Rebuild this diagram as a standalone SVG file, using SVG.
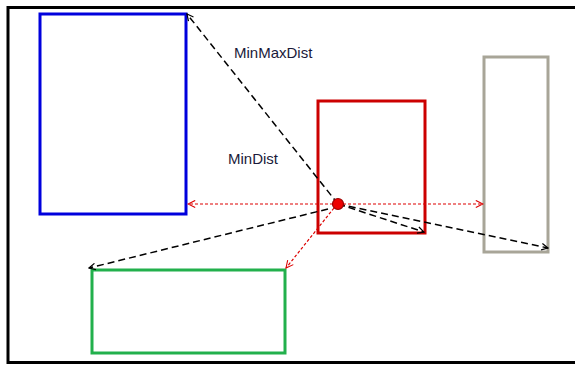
<svg xmlns="http://www.w3.org/2000/svg" width="575" height="365" viewBox="0 0 575 365">
<defs>
<style>
.box{fill:none;stroke-width:3}
.lbl{font-family:"Liberation Sans",Arial,sans-serif;font-size:15px;fill:#1a1a3a}
.blk{fill:none;stroke:#000;stroke-width:1.5;stroke-dasharray:7,4;marker-end:url(#ab)}
.red{fill:none;stroke:#d00;stroke-width:1.2;stroke-dasharray:3,2;marker-end:url(#ar)}
</style>
<marker id="ab" viewBox="0 0 10 10" refX="9" refY="5" markerWidth="8" markerHeight="8" markerUnits="userSpaceOnUse" orient="auto"><path d="M1,1 L9,5 L1,9" fill="none" stroke="#000" stroke-width="1.5"/></marker>
<marker id="ar" viewBox="0 0 10 10" refX="9" refY="5" markerWidth="9" markerHeight="9" markerUnits="userSpaceOnUse" orient="auto"><path d="M1,1 L9,5 L1,9" fill="none" stroke="#d00" stroke-width="1.2"/></marker>
</defs>
<rect x="0" y="0" width="575" height="365" fill="#fff"/>
<rect id="frame" x="8" y="7.5" width="575" height="355" fill="none" stroke="#000" stroke-width="3"/>
<g id="blue"><rect class="box" x="40" y="14" width="146" height="200" stroke="#0000dd"/></g>
<g id="red"><rect class="box" x="318" y="101" width="107" height="132" stroke="#cc0000"/></g>
<g id="gray"><rect class="box" x="484" y="57" width="64" height="195" stroke="#a8a598"/></g>
<g id="green"><rect class="box" x="92" y="270" width="193" height="83" stroke="#22b04c"/></g>
<g id="connectors">
<line class="blk" x1="338" y1="204" x2="187" y2="14"/>
<line class="blk" x1="338" y1="204" x2="424" y2="232"/>
<line class="blk" x1="338" y1="204" x2="548" y2="248"/>
<line class="blk" x1="328" y1="209" x2="89" y2="268"/>
<line class="red" x1="338" y1="204" x2="188" y2="204"/>
<line class="red" x1="338" y1="204" x2="483" y2="204"/>
<line class="red" x1="334" y1="208" x2="286" y2="268"/>
</g>
<g id="point"><circle cx="338" cy="204" r="5.5" fill="#ee0000" stroke="#900" stroke-width="1.2"/></g>
<g id="labels">
<text class="lbl" x="234" y="58">MinMaxDist</text>
<text class="lbl" x="228" y="164">MinDist</text>
</g>
</svg>
